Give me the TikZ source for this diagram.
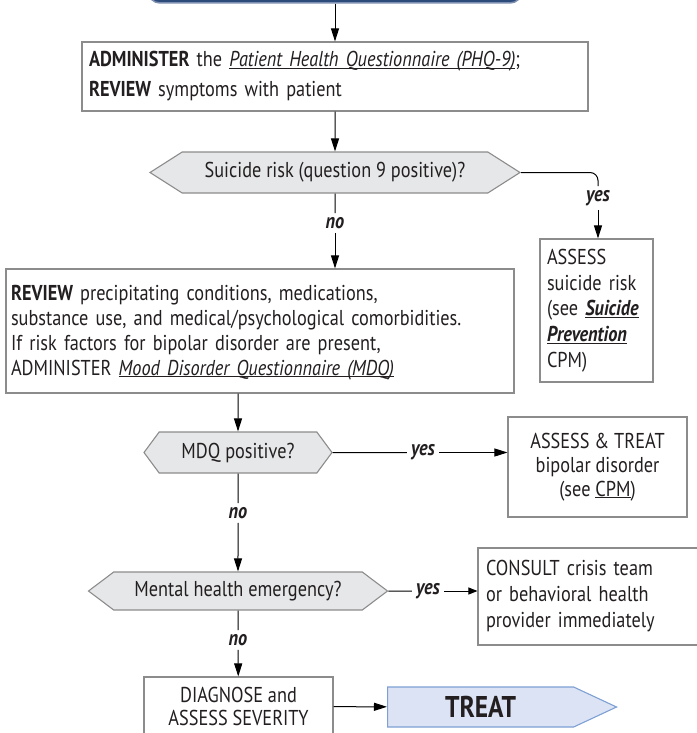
\documentclass[tikz,border=0pt]{standalone}
\usepackage{fontspec}
\setmainfont{PT Sans}[FakeStretch=0.85]
\usepackage{xcolor}
\usepackage{tikz}
\usetikzlibrary{shapes,arrows,positioning,calc,arrows.meta}

\definecolor{edgegray}{HTML}{8C8C8C}
\definecolor{querygray}{HTML}{E6E7E8}
\definecolor{inkblack}{HTML}{231F20}
\definecolor{navyfill}{HTML}{2C4A7A}
\definecolor{navyedge}{HTML}{7D8FB0}
\definecolor{treatfill}{HTML}{DCE3F4}
\definecolor{treatedge}{HTML}{7EA0D4}

\newcommand{\ul}[1]{\underline{\smash{#1}}}

\begin{document}
\begin{tikzpicture}[x=1pt, y=-1pt, font=\fontsize{21.5}{25}\selectfont, text=inkblack,
    box/.style={draw=edgegray, line width=1.1pt, fill=white, inner xsep=7pt, inner ysep=0pt},
    query/.style={signal, signal to=west and east, draw=edgegray, line width=1.1pt, fill=querygray, inner sep=0pt, minimum height=41pt},
    ans/.style={font=\fontsize{21.5}{22}\selectfont\bfseries\itshape, inner sep=4pt},
    link/.style={line width=1pt, draw=black},
    arr/.style={link, -{Triangle[length=13pt,width=8pt]}}]
    \useasboundingbox (0,0) rectangle (696,733);

    % start box (cut off at the top)
    \node[draw=navyedge, line width=1.5pt, fill=navyfill, rounded corners=12pt, minimum width=374pt, minimum height=48pt] (start) at (335,-21) {};

    % PHQ-9
    \node[box, minimum width=506pt, minimum height=69pt, text width=492pt, align=left] (phq) at (335,76.5)
        {\textbf{ADMINISTER} the \ul{\textit{Patient Health Questionnaire (PHQ-9)}};\\[5pt]\textbf{REVIEW} symptoms with patient};
    \draw[arr] (start) -- (phq);

    % suicide risk
    \node[query, minimum width=370pt, signal pointer angle=65] (risk) at (335,172.5) {Suicide risk (question 9 positive)?};
    \draw[arr] (phq) -- (risk);
    \node[ans] (yes1) at (598,198) {yes};
    \node[box, minimum width=113pt, minimum height=143pt, text width=99pt, align=left,
        font=\fontsize{21.5}{25.7}\selectfont] (sui) at (596.5,310.5)
        {ASSESS\\suicide risk\\(see \ul{\textbf{\textit{Suicide}}}\\\ul{\textbf{\textit{Prevention}}}\\CPM)};
    \draw[link, rounded corners=8pt] (risk.east) -| (yes1);
    \draw[arr] (yes1) -- (yes1 |- sui.north);
    \node[ans] (no1) at (335,223) {no};
    \draw[link] (risk) -- (no1);

    % review box
    \node[box, inner xsep=5pt, minimum width=508pt, minimum height=124pt, text width=498pt, align=left] (rev) at (260,331)
        {\textbf{REVIEW} precipitating conditions, medications,\\
         substance use, and medical/psychological comorbidities.\\
         If risk factors for bipolar disorder are present,\\
         ADMINISTER \ul{\textit{Mood Disorder Questionnaire (MDQ)}}};
    \draw[arr] (no1) -- (no1 |- rev.north);

    % MDQ
    \node[query, minimum width=188pt, signal pointer angle=107] (mdq) at (238,452.5) {MDQ positive?};
    \draw[arr] (rev.south -| mdq) -- (mdq);
    \node[ans] (yes2) at (423,452.5) {yes};
    \node[box, minimum width=179pt, minimum height=100pt, align=center, font=\fontsize{21.5}{24}\selectfont] (bip) at (597.5,467)
        {ASSESS \& TREAT\\bipolar disorder\\(see \ul{CPM})};
    \draw[link] (mdq) -- (yes2);
    \draw[arr] (yes2) -- (yes2 -| bip.west);
    \node[ans] (no2) at (238,513) {no};
    \draw[link] (mdq) -- (no2);

    % emergency
    \node[query, minimum width=299pt, minimum height=38pt, signal pointer angle=74] (emerg) at (238,591) {Mental health emergency?};
    \draw[arr] (no2) -- (emerg);
    \node[ans] (yes3) at (428,591) {yes};
    \node[box, minimum width=220pt, minimum height=97pt, text width=204pt, align=left, font=\fontsize{21.5}{26}\selectfont] (crisis) at (588,596.5)
        {CONSULT crisis team\\or behavioral health\\provider immediately};
    \draw[link] (emerg) -- (yes3);
    \draw[link, -{Triangle[length=9pt,width=7pt]}] (yes3) -- (yes3 -| crisis.west);
    \node[ans] (no3) at (238,640) {no};
    \draw[link] (emerg) -- (no3);

    % diagnose and treat
    \node[box, minimum width=189pt, minimum height=59pt, align=center, font=\fontsize{21.5}{23}\selectfont] (diag) at (238.5,706.5)
        {DIAGNOSE and\\ASSESS SEVERITY};
    \draw[arr] (no3) -- (diag);
    \node[signal, signal to=east, draw=treatedge, line width=1.1pt, fill=treatfill, minimum width=229pt, minimum height=40pt,
        signal pointer angle=50, inner sep=0pt, anchor=west, font=\fontsize{30}{32}\selectfont\bfseries] (treat) at (387,707) {TREAT};
    \draw[arr] (diag) -- (treat);
\end{tikzpicture}
\end{document}
